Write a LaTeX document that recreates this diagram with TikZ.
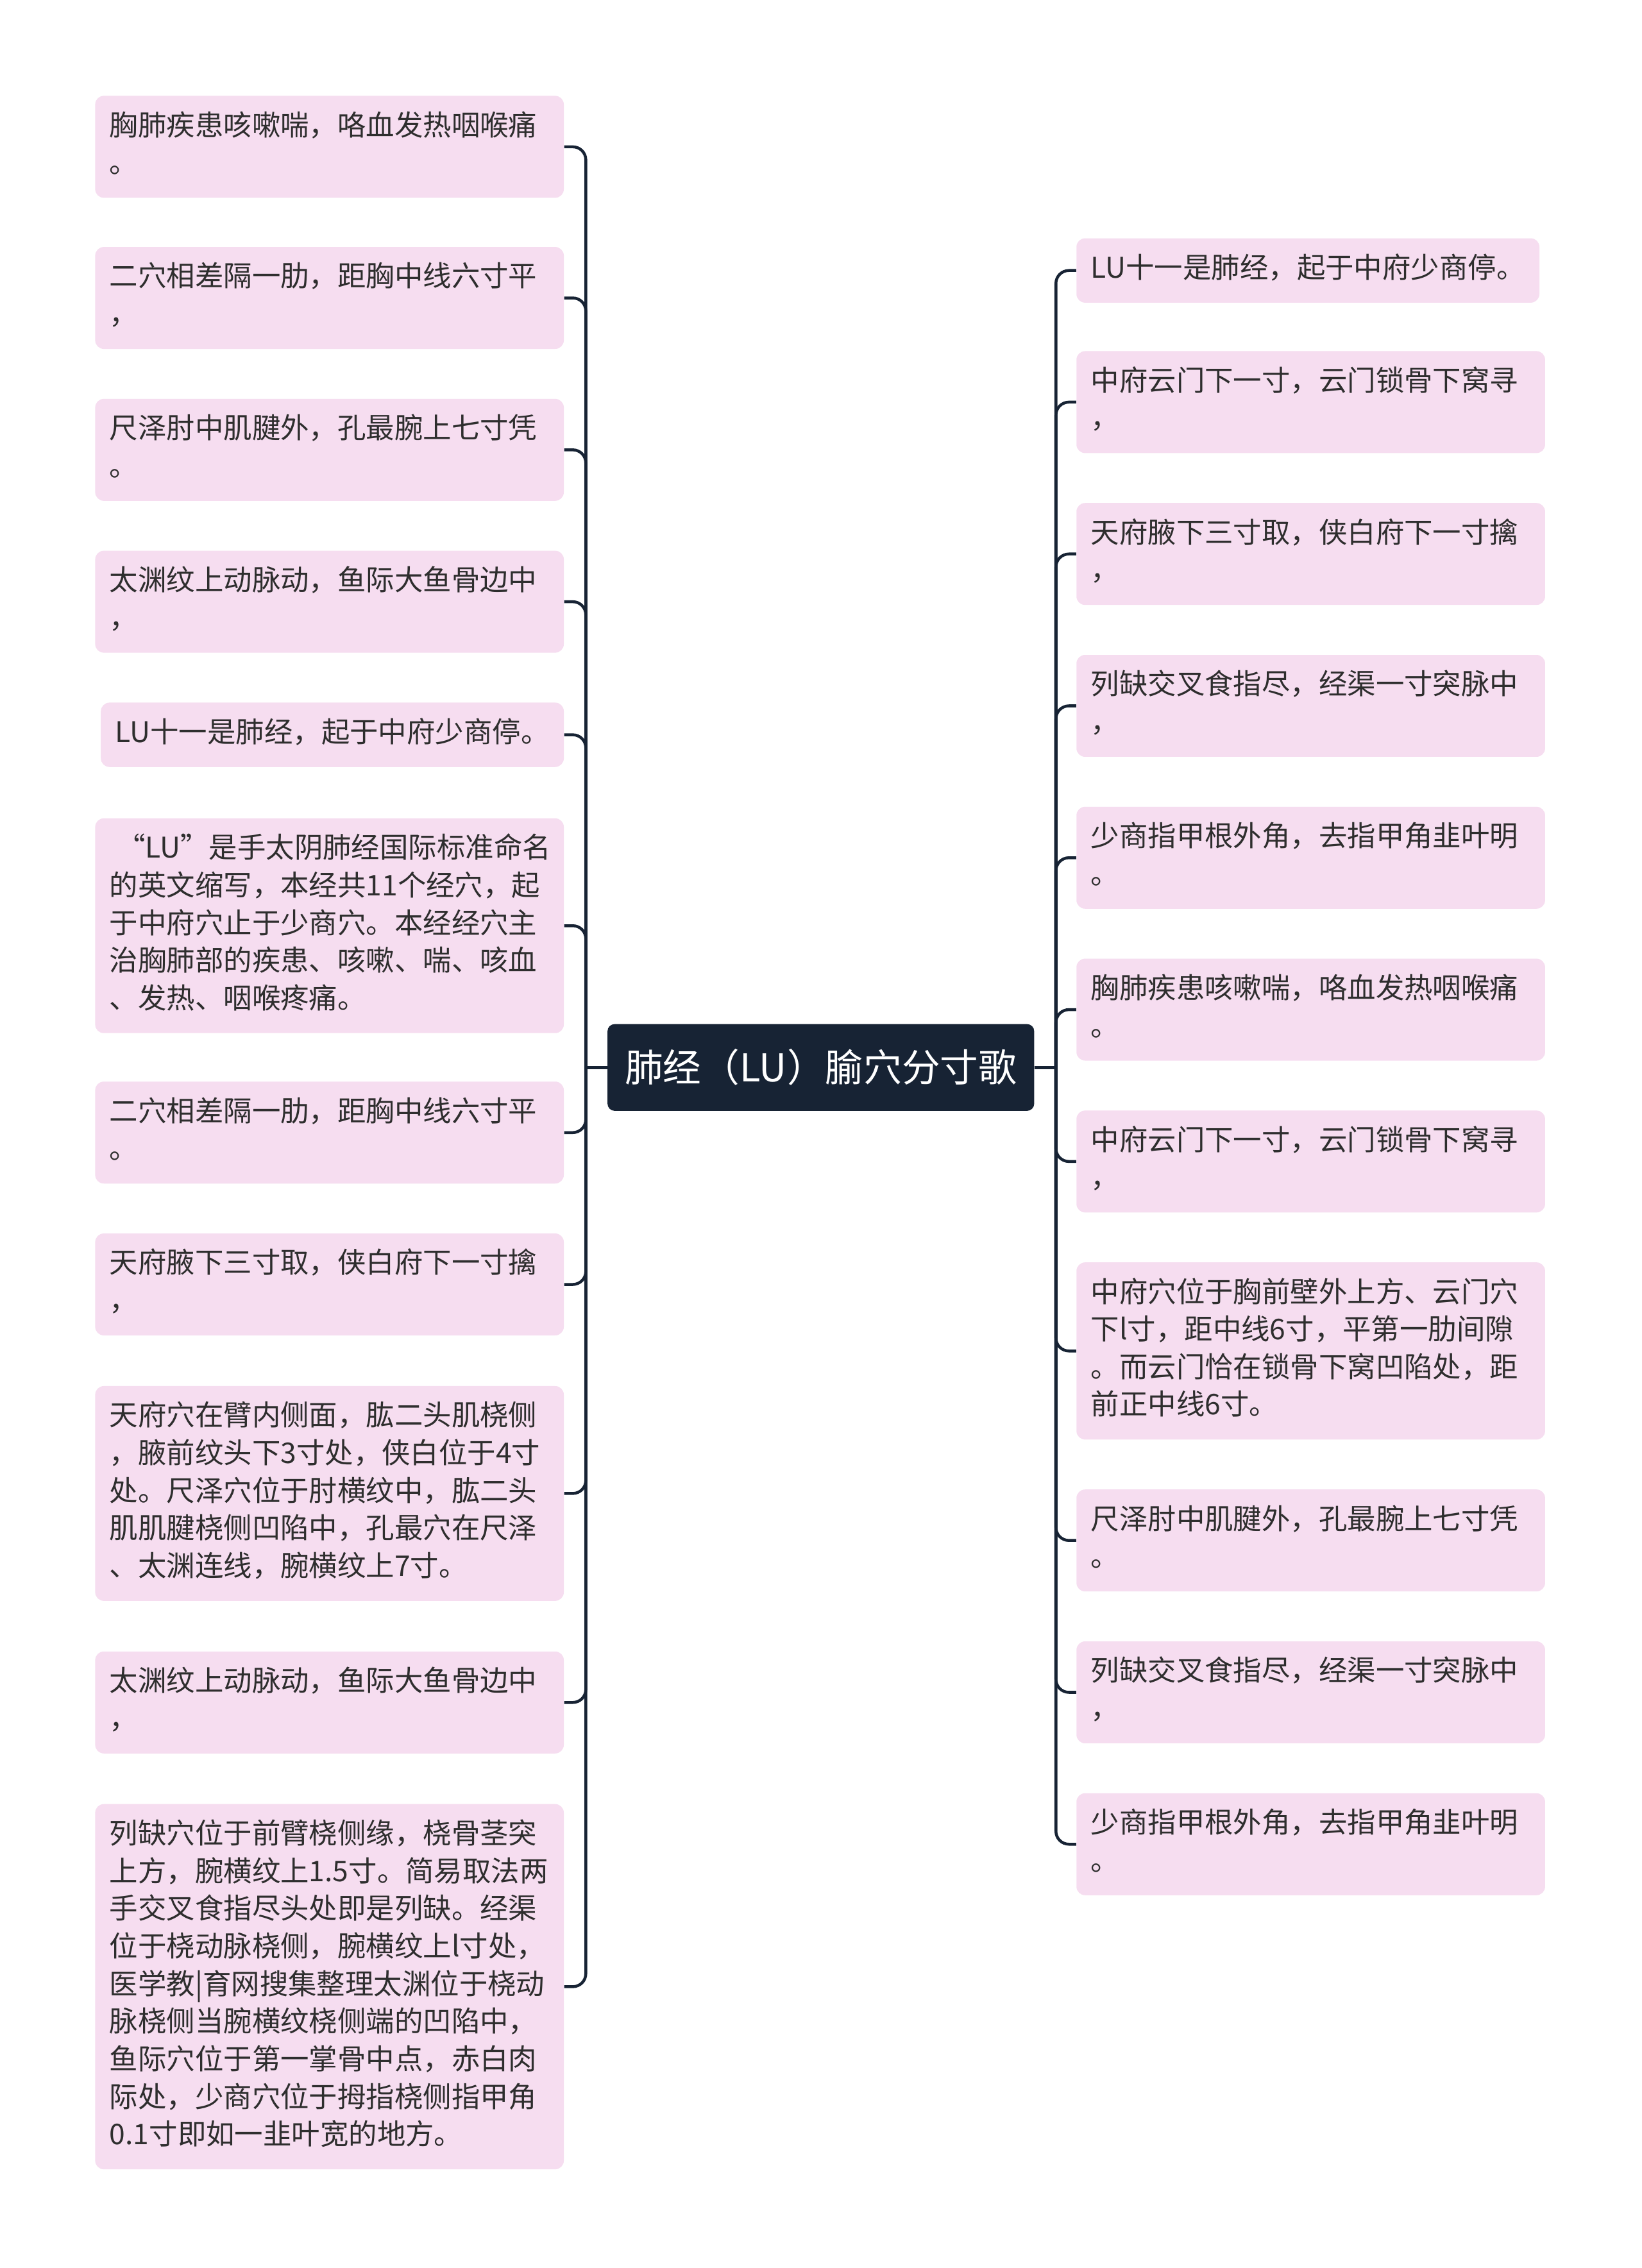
\documentclass[tikz,border=0pt]{standalone}
\usepackage{fontspec}
\setmainfont{Noto Sans CJK SC}
\definecolor{mmpink}{HTML}{F6DDF0}
\definecolor{mmnavy}{HTML}{172334}
\definecolor{mmtext}{HTML}{2E2E2E}

\begin{document}
\begin{tikzpicture}[x=1pt,y=-1pt,
  leaf/.style={fill=mmpink,rounded corners=6pt,inner xsep=10pt,inner ysep=9.25pt,align=left,text=mmtext,
    font=\fontsize{19.7}{26}\selectfont,execute at begin node=\strut,execute at end node=\strut},
  wide/.style={leaf,text width=304pt},
  root/.style={fill=mmnavy,rounded corners=5pt,text=white,minimum width=295pt,minimum height=60pt,
    font=\fontsize{26.5}{30}\selectfont},
  link/.style={draw=mmnavy,line width=2pt,rounded corners=9pt}]
  \fill[white] (0,0) rectangle (1135,1568);
  \useasboundingbox (0,0) rectangle (1135,1568);
  % centre
  \node[root] (root) at (567.5,738) {肺经（LU）腧穴分寸歌};
  \coordinate (ljoin) at (405,738);
  \coordinate (rjoin) at (730,738);
  % left side
  \node[wide,anchor=east] (l1) at (390,101.5) {胸肺疾患咳嗽喘，咯血发热咽喉痛\\。};
  \node[wide,anchor=east] (l2) at (390,206) {二穴相差隔一肋，距胸中线六寸平\\，};
  \node[wide,anchor=east] (l3) at (390,311) {尺泽肘中肌腱外，孔最腕上七寸凭\\。};
  \node[wide,anchor=east] (l4) at (390,416) {太渊纹上动脉动，鱼际大鱼骨边中\\，};
  \node[leaf,anchor=east] (l5) at (390,508) {LU十一是肺经，起于中府少商停。};
  \node[wide,anchor=east] (l6) at (390,640)
    {\hspace*{5pt}“LU”是手太阴肺经国际标准命名\\的英文缩写，本经共11个经穴，起\\于中府穴止于少商穴。本经经穴主\\治胸肺部的疾患、咳嗽、喘、咳血\\、发热、咽喉疼痛。};
  \node[wide,anchor=east] (l7) at (390,783) {二穴相差隔一肋，距胸中线六寸平\\。};
  \node[wide,anchor=east] (l8) at (390,888) {天府腋下三寸取，侠白府下一寸擒\\，};
  \node[wide,anchor=east] (l9) at (390,1032.5)
    {天府穴在臂内侧面，肱二头肌桡侧\\，腋前纹头下3寸处，侠白位于4寸\\处。尺泽穴位于肘横纹中，肱二头\\肌肌腱桡侧凹陷中，孔最穴在尺泽\\、太渊连线，腕横纹上7寸。};
  \node[wide,anchor=east] (l10) at (390,1177) {太渊纹上动脉动，鱼际大鱼骨边中\\，};
  \node[wide,anchor=east] (l11) at (390,1373.5)
    {列缺穴位于前臂桡侧缘，桡骨茎突\\上方，腕横纹上1.5寸。简易取法两\\手交叉食指尽头处即是列缺。经渠\\位于桡动脉桡侧，腕横纹上l寸处，\\医学教|育网搜集整理太渊位于桡动\\脉桡侧当腕横纹桡侧端的凹陷中，\\鱼际穴位于第一掌骨中点，赤白肉\\际处，少商穴位于拇指桡侧指甲角\\0.1寸即如一韭叶宽的地方。};
  % right side
  \node[leaf,anchor=west] (r1) at (744,187) {LU十一是肺经，起于中府少商停。};
  \node[wide,anchor=west] (r2) at (744,278) {中府云门下一寸，云门锁骨下窝寻\\，};
  \node[wide,anchor=west] (r3) at (744,383) {天府腋下三寸取，侠白府下一寸擒\\，};
  \node[wide,anchor=west] (r4) at (744,488) {列缺交叉食指尽，经渠一寸突脉中\\，};
  \node[wide,anchor=west] (r5) at (744,593) {少商指甲根外角，去指甲角韭叶明\\。};
  \node[wide,anchor=west] (r6) at (744,698) {胸肺疾患咳嗽喘，咯血发热咽喉痛\\。};
  \node[wide,anchor=west] (r7) at (744,803) {中府云门下一寸，云门锁骨下窝寻\\，};
  \node[wide,anchor=west] (r8) at (744,934)
    {中府穴位于胸前壁外上方、云门穴\\下l寸，距中线6寸，平第一肋间隙\\。而云门恰在锁骨下窝凹陷处，距\\前正中线6寸。};
  \node[wide,anchor=west] (r9) at (744,1065) {尺泽肘中肌腱外，孔最腕上七寸凭\\。};
  \node[wide,anchor=west] (r10) at (744,1170) {列缺交叉食指尽，经渠一寸突脉中\\，};
  \node[wide,anchor=west] (r11) at (744,1275) {少商指甲根外角，去指甲角韭叶明\\。};
  % connectors
  \draw[link] (root.west) -- (ljoin);
  \draw[link] (root.east) -- (rjoin);
  \draw[link] (ljoin) |- (l1.east);  \draw[link] (ljoin) |- (l2.east);
  \draw[link] (ljoin) |- (l3.east);  \draw[link] (ljoin) |- (l4.east);
  \draw[link] (ljoin) |- (l5.east);  \draw[link] (ljoin) |- (l6.east);
  \draw[link] (ljoin) |- (l7.east);  \draw[link] (ljoin) |- (l8.east);
  \draw[link] (ljoin) |- (l9.east);  \draw[link] (ljoin) |- (l10.east);
  \draw[link] (ljoin) |- (l11.east);
  \draw[link] (rjoin) |- (r1.west);  \draw[link] (rjoin) |- (r2.west);
  \draw[link] (rjoin) |- (r3.west);  \draw[link] (rjoin) |- (r4.west);
  \draw[link] (rjoin) |- (r5.west);  \draw[link] (rjoin) |- (r6.west);
  \draw[link] (rjoin) |- (r7.west);  \draw[link] (rjoin) |- (r8.west);
  \draw[link] (rjoin) |- (r9.west);  \draw[link] (rjoin) |- (r10.west);
  \draw[link] (rjoin) |- (r11.west);
\end{tikzpicture}
\end{document}
